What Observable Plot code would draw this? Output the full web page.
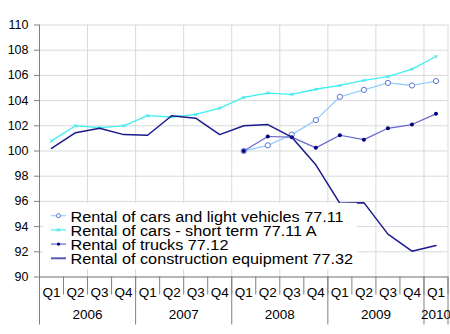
<!DOCTYPE html>
<html><head><meta charset="utf-8">
<script src="https://cdn.jsdelivr.net/npm/d3@7"></script>
<script src="https://cdn.jsdelivr.net/npm/@observablehq/plot@0.6"></script>
<style>body{margin:0;background:#fff;} svg{font-family:"Liberation Sans",Arial,sans-serif;}</style>
</head><body><div id="chart"></div>
<script>
const quarterLabels = ["Q1","Q2","Q3","Q4","Q1","Q2","Q3","Q4","Q1","Q2","Q3","Q4","Q1","Q2","Q3","Q4","Q1"];
const years = ["2006","2007","2008","2009","2010"];
const yearQuarterCounts = [4,4,4,4,1];
const yTicks = [90,92,94,96,98,100,102,104,106,108,110];
const seriesNames = [
  "Rental of cars and light vehicles 77.11",
  "Rental of cars - short term 77.11 A",
  "Rental of trucks 77.12",
  "Rental of construction equipment 77.32"
];
const carsLight    = [null,null,null,null,null,null,null,null,100.0,100.45,101.3,102.45,104.3,104.85,105.4,105.2,105.55];
const carsShort    = [100.8,102.0,101.85,102.0,102.8,102.7,102.9,103.4,104.25,104.6,104.5,104.9,105.2,105.6,105.9,106.5,107.5];
const trucks       = [null,null,null,null,null,null,null,null,100.0,101.15,101.1,100.25,101.25,100.9,101.8,102.1,102.95];
const construction = [100.2,101.45,101.8,101.3,101.25,102.8,102.6,101.3,102.0,102.1,101.1,98.9,95.85,95.9,93.4,92.05,92.5];

const seriesValues = [carsLight, carsShort, trucks, construction];
const lineColors = ["#99ccff","#40f0f0","#6666cc","#1a1a8c"];

const rows = [];
seriesValues.forEach((vals, s) => vals.forEach((v, i) => { if (v != null) rows.push({series: seriesNames[s], i, v}); }));
const bySeries = s => rows.filter(r => r.series === seriesNames[s]);

const n = quarterLabels.length;
const boundaries = d3.range(-0.5, n, 1);
const gridXs = d3.range(1.5, n, 2).concat([n - 0.5]);
const yearCenters = [], yearBounds = [-0.5];
let start = 0;
yearQuarterCounts.forEach(c => { yearCenters.push(start + c / 2 - 0.5); start += c; yearBounds.push(start - 0.5); });
const yearByCenter = new Map(yearCenters.map((c, k) => [c, years[k]]));

const plot = Plot.plot({
  width: 450, height: 334,
  marginLeft: 39, marginRight: 2.5, marginTop: 24.5, marginBottom: 57.5,
  x: {domain: [-0.5, n - 0.5], axis: null},
  y: {domain: [90, 110], axis: null},
  style: {fontFamily: "Liberation Sans, Arial, sans-serif", background: "white", color: "#000"},
  marks: [
    Plot.gridY(yTicks, {stroke: "#d9d9d9", strokeOpacity: 1}),
    Plot.gridX(gridXs, {stroke: "#d9d9d9", strokeOpacity: 1}),
    Plot.axisY(yTicks, {label: null, tickSize: 5, tickPadding: 6, stroke: "#808080", fontSize: 12.5, fill: "#000"}),
    Plot.axisX(boundaries, {label: null, tickSize: 18, tickFormat: () => "", stroke: "#808080"}),
    Plot.axisX(yearBounds, {label: null, tickSize: 48, tickFormat: () => "", stroke: "#808080"}),
    Plot.axisX(d3.range(n), {label: null, tickSize: 0, tickPadding: 10, tickFormat: i => quarterLabels[i], fontSize: 13.5, fill: "#000"}),
    Plot.axisX(yearCenters, {label: null, tickSize: 0, tickPadding: 32, tickFormat: d => yearByCenter.get(d), fontSize: 13.5, fill: "#000"}),
    Plot.ruleY([90], {stroke: "#808080"}),
    Plot.ruleX([-0.5], {stroke: "#808080"}),
    Plot.line(bySeries(0), {x: "i", y: "v", stroke: lineColors[0], strokeWidth: 1.3}),
    Plot.dot(bySeries(0), {x: "i", y: "v", r: 2.6, stroke: "#5a73d0", fill: "white", strokeWidth: 1}),
    Plot.line(bySeries(1), {x: "i", y: "v", stroke: lineColors[1], strokeWidth: 1.3}),
    Plot.dot(bySeries(1), {x: "i", y: "v", r: 1.6, symbol: "times", stroke: "#40e0e8", strokeWidth: 1}),
    Plot.line(bySeries(2), {x: "i", y: "v", stroke: lineColors[2], strokeWidth: 1.2}),
    Plot.dot(bySeries(2), {x: "i", y: "v", r: 2, fill: "#000080"}),
    Plot.line(bySeries(3), {x: "i", y: "v", stroke: lineColors[3], strokeWidth: 1.5})
  ]
});
document.getElementById("chart").append(plot);

// Legend drawn inside the plot area
const svg = d3.select(plot);
const lg = svg.append("g").attr("text-anchor", "start");
lg.append("rect").attr("x", 43).attr("y", 203).attr("width", 314).attr("height", 66).attr("fill", "white");
seriesNames.forEach((name, k) => {
  const base = 221.7 + k * 14.2;
  const my = base - 6;
  lg.append("line").attr("x1", 51).attr("x2", 66).attr("y1", my).attr("y2", my)
    .attr("stroke", k === 3 ? "#5a5ab0" : lineColors[k]).attr("stroke-width", k === 3 ? 2 : 1.2);
  if (k === 0) lg.append("circle").attr("cx", 58.5).attr("cy", my).attr("r", 2).attr("fill", "white").attr("stroke", "#5a73d0");
  if (k === 1) lg.append("path").attr("d", d3.symbol(d3.symbolTimes, 10)()).attr("transform", `translate(58.5,${my})`).attr("stroke", "#40e0e8").attr("fill", "none");
  if (k === 2) lg.append("circle").attr("cx", 58.5).attr("cy", my).attr("r", 1.7).attr("fill", "#000080");
  lg.append("text").attr("transform", `translate(70.5,${base}) scale(1.16,1)`)
    .attr("text-anchor", "start").attr("font-size", 14).attr("fill", "#000").text(name);
});
</script></body></html>
